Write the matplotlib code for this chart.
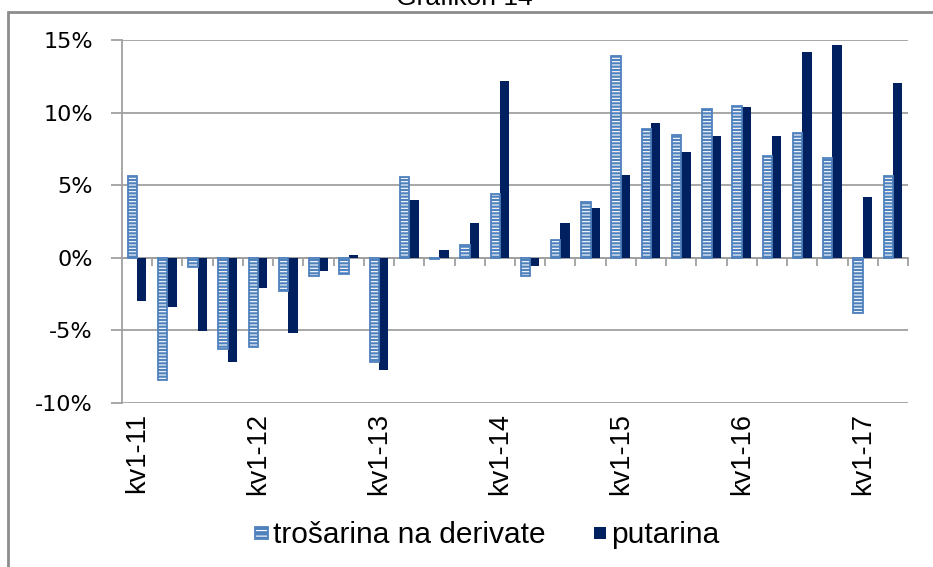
import numpy as np
import matplotlib.pyplot as plt
from matplotlib.patches import Rectangle
from matplotlib.legend_handler import HandlerPatch

plt.rcParams['hatch.linewidth'] = 0.8

quarters = ['kv1-11', 'kv2-11', 'kv3-11', 'kv4-11',
            'kv1-12', 'kv2-12', 'kv3-12', 'kv4-12',
            'kv1-13', 'kv2-13', 'kv3-13', 'kv4-13',
            'kv1-14', 'kv2-14', 'kv3-14', 'kv4-14',
            'kv1-15', 'kv2-15', 'kv3-15', 'kv4-15',
            'kv1-16', 'kv2-16', 'kv3-16', 'kv4-16',
            'kv1-17', 'kv2-17']
# y/y growth, %
trosarina = [5.6, -8.4, -0.6, -6.3, -6.15, -2.3, -1.25, -1.15, -7.2, 5.55,
             -0.1, 0.87, 4.38, -1.25, 1.23, 3.86, 13.88, 8.86, 8.49, 10.27,
             10.43, 7.03, 8.6, 6.85, -3.77, 5.62]
putarina = [-2.95, -3.36, -5.05, -7.15, -2.05, -5.15, -0.9, 0.18, -7.75, 3.97,
            0.57, 2.42, 12.15, -0.57, 2.42, 3.45, 5.73, 9.25, 7.31, 8.36,
            10.37, 8.36, 14.16, 14.68, 4.16, 12.05]
yticks = [-10, -5, 0, 5, 10, 15]

blue = '#4F81BD'
navy = '#002060'
grey = '#A0A0A0'

fig = plt.figure(figsize=(9.33, 5.67), dpi=100)
ax = fig.add_axes([122/933, 1-403/567, (908-122)/933, (403-40)/567])

x = np.arange(len(quarters))
w = 0.31
# striped fill: blue with white lines, then a blue outline on top
ax.bar(x - 0.155, trosarina, w, facecolor=blue, edgecolor='white',
       hatch='-----', linewidth=0, zorder=3)
ax.bar(x - 0.155, trosarina, w, facecolor='none', edgecolor=blue,
       linewidth=1.3, zorder=4)
ax.bar(x + 0.155, putarina, w, color=navy, linewidth=0, zorder=3)

ax.set_xlim(-0.5, len(quarters) - 0.5)
ax.set_ylim(-10, 15)
ax.set_yticks(yticks, labels=[f'{v}%' for v in yticks])
ax.yaxis.grid(True, color=grey, linewidth=1.3)
ax.set_axisbelow(True)
ax.tick_params(axis='y', length=8, width=1.3, color=grey, pad=13, labelsize=16)

for s in ['top', 'right']:
    ax.spines[s].set_visible(False)
ax.spines['left'].set_color(grey)
ax.spines['left'].set_linewidth(1.3)
ax.spines['bottom'].set_position(('data', 0))
ax.spines['bottom'].set_color(grey)
ax.spines['bottom'].set_linewidth(1.3)

# category boundary ticks hanging from the zero line
ax.set_xticks(x, labels=[])
ax.set_xticks(list(x[1:] - 0.5) + [len(quarters) - 0.5], minor=True)
ax.tick_params(axis='x', which='major', length=0)
ax.tick_params(axis='x', which='minor', length=6, width=1.3, color=grey, direction='out')

sec = ax.secondary_xaxis('bottom')
sec.set_ticks(x[::4], labels=quarters[::4], rotation=90, fontfamily='Liberation Sans')
sec.tick_params(length=0, pad=7, labelsize=19.5)
sec.spines['bottom'].set_visible(False)


def small_square(legend, orig_handle, xdescent, ydescent, width, height, fontsize):
    s = 9
    return Rectangle((-xdescent + (width - s) / 2, -ydescent + (height - s) / 2), s, s)


t_fill = Rectangle((0, 0), 1, 1, facecolor=blue, edgecolor='white', hatch='---', linewidth=0)
t_edge = Rectangle((0, 0), 1, 1, facecolor='none', edgecolor=blue, linewidth=1.3)
p_box = Rectangle((0, 0), 1, 1, facecolor=navy, linewidth=0)
fig.legend(handles=[(t_fill, t_edge), p_box],
           labels=['trošarina na derivate', 'putarina'],
           handler_map={Rectangle: HandlerPatch(patch_func=small_square)},
           loc='center', bbox_to_anchor=(0.522, 0.056), ncol=2, frameon=False,
           handlelength=0.45, handletextpad=0.15, columnspacing=1.6,
           prop={'family': 'Liberation Sans', 'size': 21.5})

# chart frame and clipped title, as in the source document
fig.add_artist(Rectangle((8/933, -0.1), 1.2, 1.1 - 11.5/567, transform=fig.transFigure,
                         fill=False, edgecolor='#8C8C8C', linewidth=2, clip_on=False))
fig.text(464/933, 1 - 5/567, 'Grafikon 14', ha='center', va='baseline',
         fontfamily='Liberation Sans', fontsize=19)

plt.savefig('out.png', dpi=100)
